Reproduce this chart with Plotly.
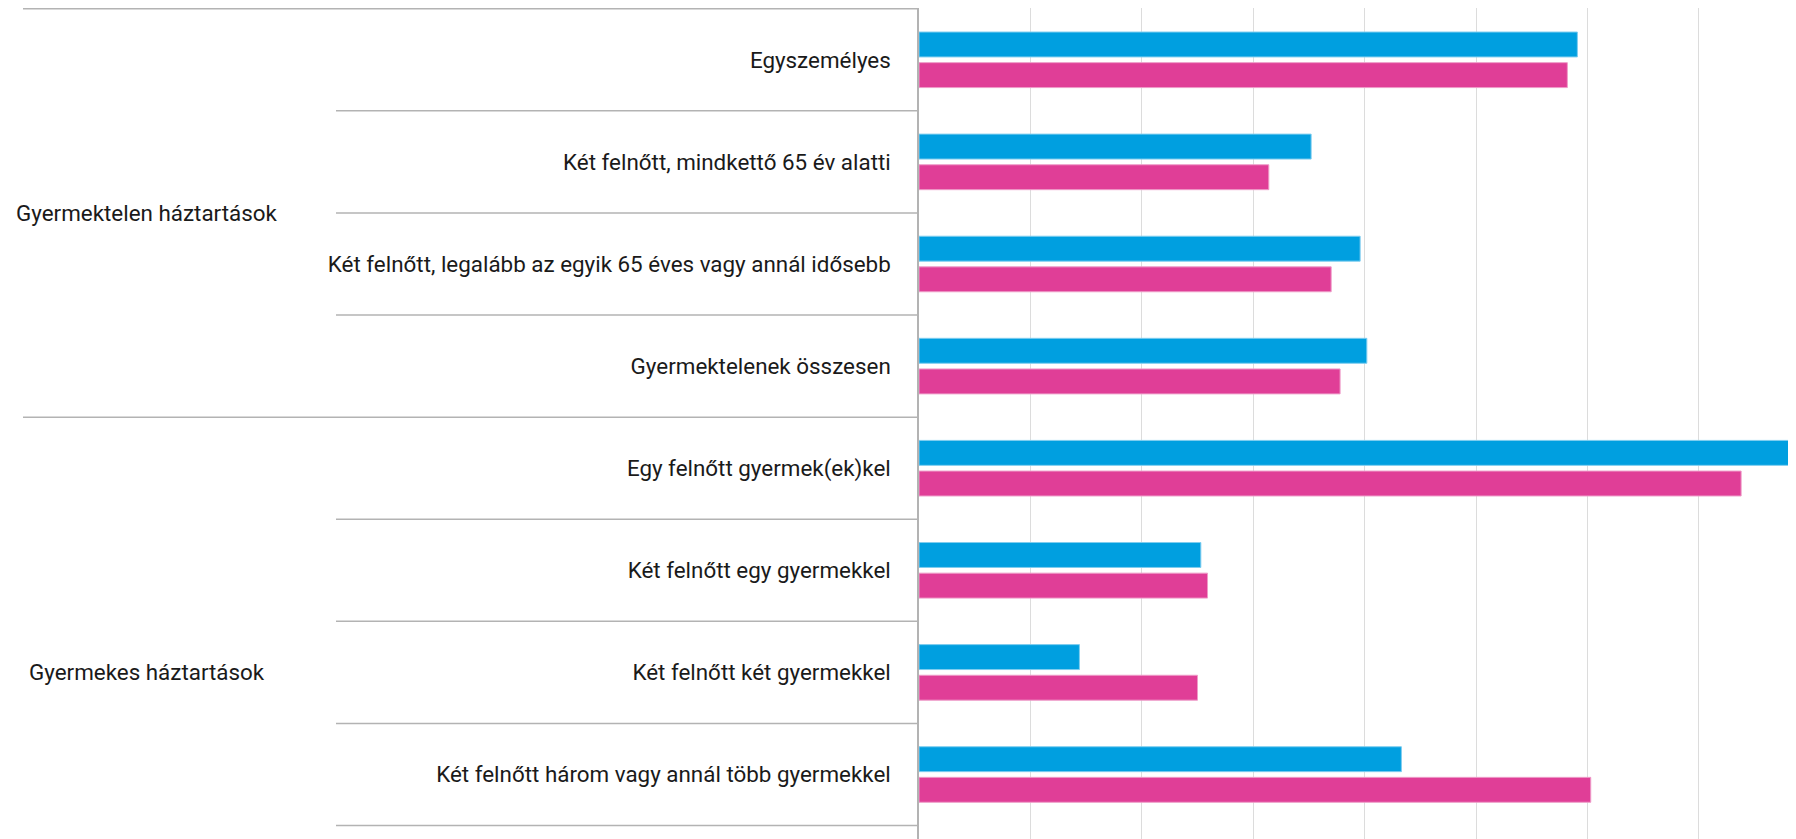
import plotly.graph_objects as go

# ---- data ----
categories = [
    "Egyszemélyes",
    "Két felnőtt, mindkettő 65 év alatti",
    "Két felnőtt, legalább az egyik 65 éves vagy annál idősebb",
    "Gyermektelenek összesen",
    "Egy felnőtt gyermek(ek)kel",
    "Két felnőtt egy gyermekkel",
    "Két felnőtt két gyermekkel",
    "Két felnőtt három vagy annál több gyermekkel",
]
series_a = [29.55, 17.6, 19.8, 20.1, 40.5, 12.65, 7.2, 21.65]   # blue
series_b = [29.1, 15.7, 18.5, 18.9, 36.9, 12.95, 12.5, 30.15]   # pink
group_names = ["Gyermektelen háztartások", "Gyermekes háztartások"]
group_spans = [(0, 3), (4, 8)]   # index ranges (2nd group continues below the visible area)

# ---- style ----
OFF = 8                     # page body margin
W, H = 1796 - OFF, 839 - OFF
ML, MT = 919 - OFF, 0
BLUE = "#009FE0"
PINK = "#E03E97"
LINE = "#B3B3B3"
GRID = "#DCDCDC"
FONT = "Roboto"
FSIZE = 22.4

fig = go.Figure()
fig.add_trace(go.Bar(
    y=categories, x=series_a, orientation="h",
    marker=dict(color=BLUE, line=dict(color="#7FCDEF", width=1)),
    name="A",
))
fig.add_trace(go.Bar(
    y=categories, x=series_b, orientation="h",
    marker=dict(color=PINK, line=dict(color="#EE9CC8", width=1)),
    name="B",
))

plot_w = W - ML
row_h = 102.1
top_pad = 0.75 / row_h
y_top = -0.5 - top_pad
y_bottom = y_top + (H - MT) / row_h
x_step_px = 111.4
x_max = 5 * plot_w / x_step_px

shapes = []
def paper_x(page_px):
    return (page_px - OFF - ML) / plot_w

group_starts = {s for s, e in group_spans}
for b in range(len(categories) + 1):
    yb = b - 0.5
    long_line = b in group_starts
    x0 = paper_x(23) if long_line else paper_x(336)
    shapes.append(dict(type="line", xref="paper", yref="y",
                       x0=x0, x1=0, y0=yb, y1=yb,
                       line=dict(color=LINE, width=1.5)))

annotations = []
for name, (s, e) in zip(group_names, group_spans):
    annotations.append(dict(
        text=name, xref="paper", yref="y",
        x=paper_x(146.5), y=(s + e) / 2, xanchor="center", yanchor="middle",
        showarrow=False, font=dict(family=FONT, size=FSIZE, color="#1a1a1a"),
    ))

fig.update_layout(
    width=W, height=H,
    margin=dict(l=ML, r=0, t=MT, b=0, pad=0),
    paper_bgcolor="white", plot_bgcolor="white",
    barmode="group", bargap=0.40, bargroupgap=0.186,
    showlegend=False,
    font=dict(family=FONT, size=FSIZE, color="#1a1a1a"),
    shapes=shapes, annotations=annotations,
    xaxis=dict(range=[0, x_max], dtick=5, showgrid=True, gridcolor=GRID,
               gridwidth=1, zeroline=False, showticklabels=False,
               showline=False, fixedrange=True),
    yaxis=dict(categoryorder="array", categoryarray=categories,
               range=[y_bottom, y_top],
               showgrid=False, zeroline=False, showline=True,
               linecolor=LINE, linewidth=1.5, ticks="",
               ticklabelstandoff=22,
               tickfont=dict(family=FONT, size=FSIZE, color="#1a1a1a")),
)

fig.write_html("out.html")
